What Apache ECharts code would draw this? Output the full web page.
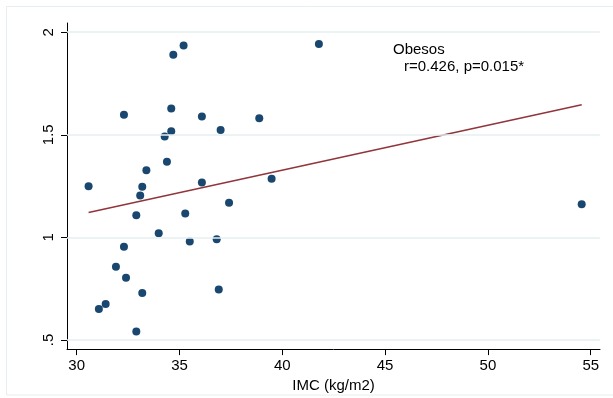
<!DOCTYPE html>
<html>
<head>
<meta charset="utf-8">
<script src="https://cdn.jsdelivr.net/npm/echarts@6/dist/echarts.min.js"></script>
<style>
  html, body { margin: 0; padding: 0; background: #fff; }
  #chart { width: 613px; height: 398px; }
</style>
</head>
<body>
<div id="chart"></div>
<script>
// IMC vs value, obese group
const imc = [30.58, 31.08, 31.41, 31.91, 32.30, 32.30, 32.40, 32.90, 32.90, 33.09, 33.19,
  33.19, 33.39, 33.99, 34.28, 34.39, 34.60, 34.60, 34.70, 35.20, 35.28, 35.50, 36.09,
  36.09, 36.81, 36.91, 37.00, 37.41, 38.88, 39.48, 41.78, 54.56];
const vals = [1.249, 0.651, 0.675, 0.857, 0.954, 1.598, 0.803, 1.108, 0.541, 1.204, 1.246,
  0.729, 1.327, 1.020, 1.492, 1.368, 1.628, 1.517, 1.890, 1.935, 1.116, 0.980, 1.589,
  1.267, 0.990, 0.745, 1.523, 1.168, 1.580, 1.286, 1.942, 1.161];

// fitted line endpoints
const fitX = [30.58, 54.56];
const fitY = [1.121, 1.646];

const xTicks = [30, 35, 40, 45, 50, 55];
const yTicks = [0.5, 1, 1.5, 2];

const font = "'Liberation Sans', Arial, sans-serif";
const chart = echarts.init(document.getElementById("chart"));

const option = {
  animation: false,
  backgroundColor: "#ffffff",
  grid: { left: 67, right: 13, top: 23, bottom: 48 },
  graphic: [
    {
      type: "rect",
      shape: { x: 6.5, y: 6.5, width: 620, height: 388.5 },
      style: { fill: "none", stroke: "#e6eef1", lineWidth: 1 },
      silent: true
    },
    {
      type: "text", left: 393, top: 42,
      style: { text: "Obesos", font: "15px " + font, fill: "#000" }
    },
    {
      type: "text", left: 404, top: 59,
      style: { text: "r=0.426, p=0.015*", font: "15px " + font, fill: "#000" }
    }
  ],
  xAxis: {
    type: "value",
    min: 29.53,
    max: 55.45,
    name: "IMC (kg/m2)",
    nameLocation: "middle",
    nameGap: 27,
    nameTextStyle: { fontFamily: font, fontSize: 15, color: "#000" },
    axisLine: { show: true, onZero: false, lineStyle: { color: "#000", width: 1 } },
    axisTick: { show: true, length: 6, customValues: xTicks, lineStyle: { color: "#000" } },
    axisLabel: {
      customValues: xTicks,
      margin: 9,
      fontFamily: font, fontSize: 15, color: "#000"
    },
    splitLine: { show: false }
  },
  yAxis: {
    type: "value",
    min: 0.455,
    max: 2.045,
    axisLine: { show: true, onZero: false, lineStyle: { color: "#000", width: 1 } },
    axisTick: { show: true, length: 6, customValues: yTicks, lineStyle: { color: "#000" } },
    axisLabel: {
      customValues: yTicks,
      rotate: 90,
      margin: 11,
      fontFamily: font, fontSize: 15, color: "#000",
      formatter: v => (v === 0.5 ? ".5" : String(v))
    },
    splitLine: { show: false }
  },
  series: [
    {
      type: "line",
      data: [],
      silent: true,
      markLine: {
        silent: true,
        symbol: "none",
        label: { show: false },
        lineStyle: { color: "#e6eff1", type: "solid", width: 1.5 },
        data: yTicks.map(v => ({ yAxis: v }))
      }
    },
    {
      type: "line",
      data: fitX.map((x, i) => [x, fitY[i]]),
      showSymbol: false,
      lineStyle: { color: "#90353b", width: 1.5 },
      z: 3
    },
    {
      type: "scatter",
      data: imc.map((x, i) => [x, vals[i]]),
      symbolSize: 8,
      itemStyle: { color: "#1a476f", opacity: 1 },
      z: 4
    }
  ]
};

chart.setOption(option);
</script>
</body>
</html>
